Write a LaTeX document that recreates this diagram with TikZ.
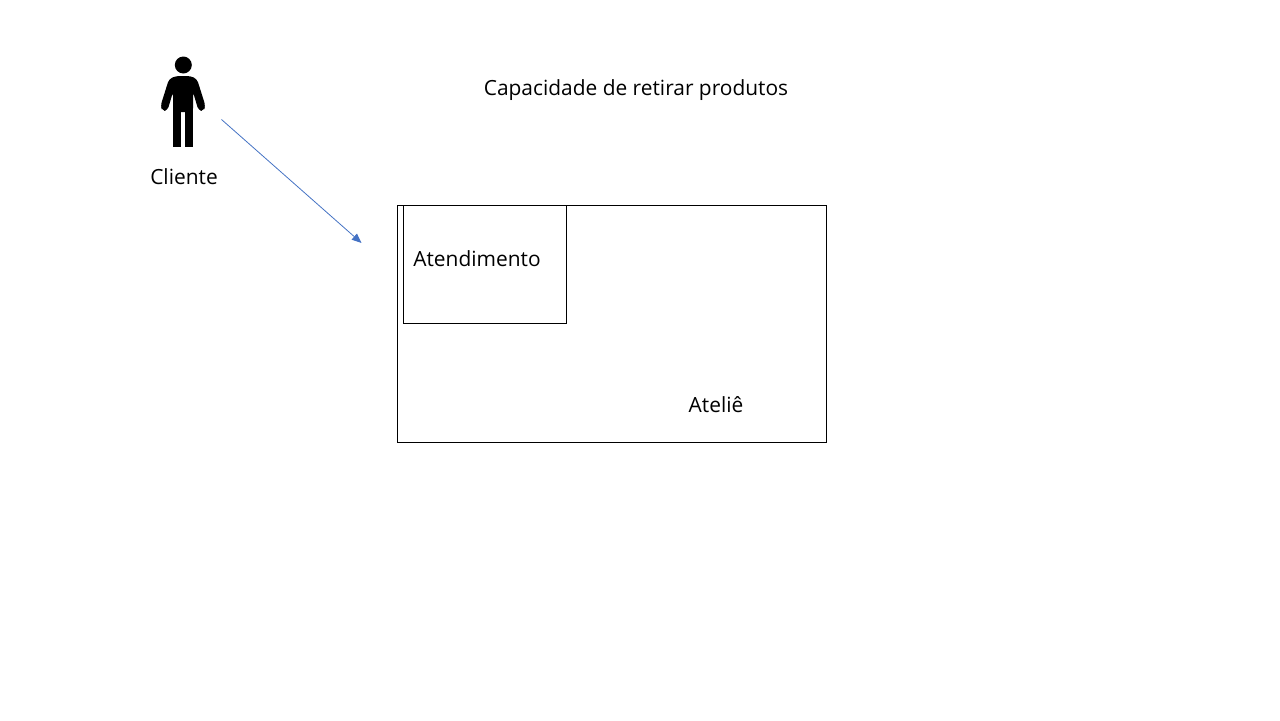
\documentclass[tikz,border=0pt]{standalone}
\usepackage{fontspec}
\setmainfont{Open Sans}
\usetikzlibrary{arrows.meta}
\definecolor{arrowblue}{RGB}{68,114,196}
\tikzset{
  label text/.style={font=\fontsize{11.9}{14}\selectfont, text=black, inner sep=0pt},
  room/.style={draw=black, line width=0.45pt, minimum width=0pt, inner sep=0pt}
}
\begin{document}
\begin{tikzpicture}[x=0.02cm, y=-0.02cm]
      \useasboundingbox (0,0) rectangle (1280,720);
      \fill[white] (0,0) rectangle (1280,720);
      % rooms
      \node [room, anchor=north west, minimum width=8.58cm, minimum height=4.75cm] (atelier) at (397,205) {};
      \node [room, anchor=north west, minimum width=3.26cm, minimum height=2.36cm] (atendimento) at (403,205) {};
      % person
      \fill (183.3,65) circle (8.5);
      \fill [rounded corners=2pt] (176,76) -- (190.5,76) -- (197,79) -- (205.5,106) -- (203.5,111) -- (198.5,110.5) -- (193,92) -- (193,112) -- (173,112) -- (173,92) -- (167.5,110.5) -- (162.5,111) -- (160.5,106) -- (169,79) -- cycle;
      \fill (173,105) rectangle (181,147);
      \fill (185,105) rectangle (193,147);
      % labels
      \node [label text] (cliente) at (184,176.3) {Cliente};
      \node [label text] (titulo) at (636,90) {Capacidade de retirar produtos};
      \node [label text, anchor=west] (atendlabel) at (413,258.5) {Atendimento};
      \node [label text] (atelielabel) at (716,404.5) {Ateliê};
      % arrow
      \coordinate (from) at (221.5,119.5);
      \coordinate (to) at (361.5,243);
      \draw [arrowblue, line width=0.45pt, -{Triangle[length=5.5pt,width=4.5pt]}] (from) -- (to);
\end{tikzpicture}
\end{document}
